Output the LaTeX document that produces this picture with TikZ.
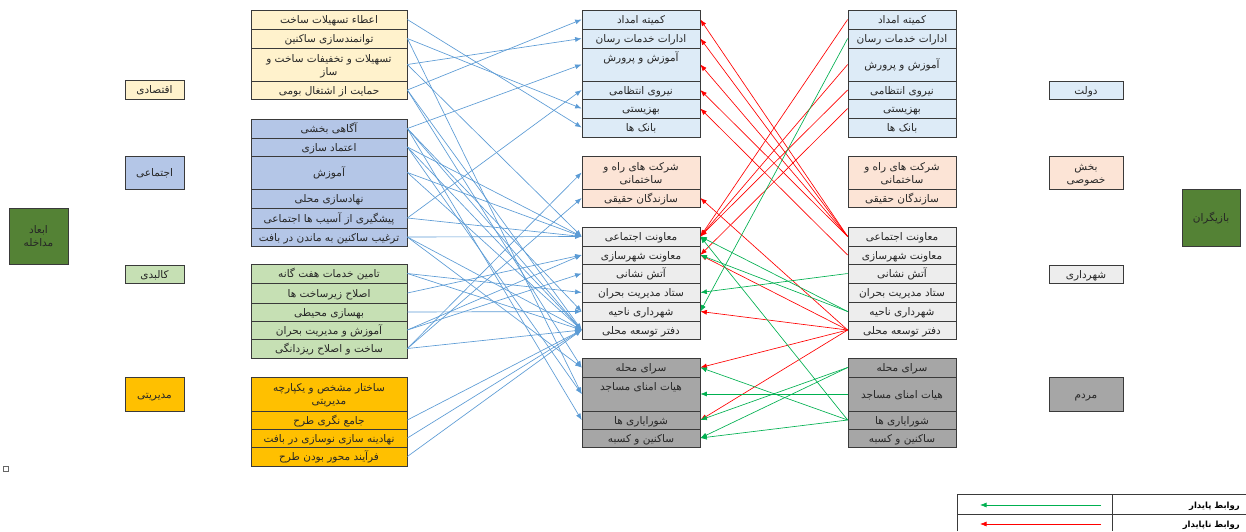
\documentclass[tikz,border=0pt]{standalone}
\usepackage{fontspec}
\newfontfamily\arabicfont[Script=Arabic]{DejaVu Sans}
\TeXXeTstate=1
\usetikzlibrary{arrows.meta}
\newcommand{\prs}[1]{\raisebox{0pt}[8pt][0pt]{\arabicfont\beginR #1\endR}}
\definecolor{cYel}{HTML}{FFF2CC}
\definecolor{cBlue}{HTML}{B4C6E7}
\definecolor{cGreen}{HTML}{C6E0B4}
\definecolor{cOrange}{HTML}{FFC000}
\definecolor{cDkGreen}{HTML}{548235}
\definecolor{cLtBlue}{HTML}{DDEBF7}
\definecolor{cPeach}{HTML}{FCE4D6}
\definecolor{cLtGrey}{HTML}{EDEDED}
\definecolor{cDkGrey}{HTML}{A6A6A6}
\definecolor{cBorder}{HTML}{3A3A3A}
\definecolor{cArrBlue}{HTML}{5B9BD5}
\definecolor{cArrRed}{HTML}{FF0000}
\definecolor{cArrGreen}{HTML}{00B050}
\tikzset{
  box/.style={draw=cBorder, line width=0.7pt, inner sep=0pt, align=center, text=black!85,
    font=\fontsize{10.5}{13}\selectfont},
  lcell/.style={box, minimum width=156},
  mcell/.style={box, minimum width=118},
  rcell/.style={box, minimum width=108},
  catl/.style={box, minimum width=59},
  catr/.style={box, minimum width=74},
  bluearr/.style={draw=cArrBlue, line width=0.65pt, -{Latex[length=6.5pt,width=5pt]}},
  redarr/.style={draw=cArrRed, line width=0.65pt, -{Latex[length=6.5pt,width=5pt]}},
  greenarr/.style={draw=cArrGreen, line width=0.65pt, -{Latex[length=6.5pt,width=5pt]}},
}
\begin{document}
\begin{tikzpicture}[x=1pt,y=-1pt]
\useasboundingbox (0,0) rectangle (1246,531);
\fill[white] (0,0) rectangle (1246,531);

% ---------- left categories ----------
\node[box, fill=cDkGreen, minimum width=59, minimum height=56] (dims) at (38.5,236) {\prs{ابعاد}\\\prs{مداخله}};
\node[catl, fill=cYel, minimum height=19] (econ) at (154.5,89.5) {\prs{اقتصادی}};
\node[catl, fill=cBlue, minimum height=33] (soc) at (154.5,172.5) {\prs{اجتماعی}};
\node[catl, fill=cGreen, minimum height=18] (phys) at (154.5,274) {\prs{کالبدی}};
\node[catl, fill=cOrange, minimum height=34] (mgmt) at (154.5,394) {\prs{مدیریتی}};

% ---------- left column ----------
\node[lcell, fill=cYel, minimum height=19] (y1) at (329,19.5) {\prs{اعطاء تسهیلات ساخت}};
\node[lcell, fill=cYel, minimum height=19] (y2) at (329,38.5) {\prs{توانمندسازی ساکنین}};
\node[lcell, fill=cYel, minimum height=33] (y3) at (329,64.5) {\prs{تسهیلات و تخفیفات ساخت و}\\\prs{ساز}};
\node[lcell, fill=cYel, minimum height=18] (y4) at (329,90) {\prs{حمایت از اشتغال بومی}};

\node[lcell, fill=cBlue, minimum height=19] (b1) at (329,128.5) {\prs{آگاهی بخشی}};
\node[lcell, fill=cBlue, minimum height=18] (b2) at (329,147) {\prs{اعتماد سازی}};
\node[lcell, fill=cBlue, minimum height=33] (b3) at (329,172.5) {\prs{آموزش}};
\node[lcell, fill=cBlue, minimum height=19] (b4) at (329,198.5) {\prs{نهادسازی محلی}};
\node[lcell, fill=cBlue, minimum height=20] (b5) at (329,218) {\prs{پیشگیری از آسیب ها اجتماعی}};
\node[lcell, fill=cBlue, minimum height=18] (b6) at (329,237) {\prs{ترغیب ساکنین به ماندن در بافت}};

\node[lcell, fill=cGreen, minimum height=19] (g1) at (329,273.5) {\prs{تامین خدمات هفت گانه}};
\node[lcell, fill=cGreen, minimum height=20] (g2) at (329,293) {\prs{اصلاح زیرساخت ها}};
\node[lcell, fill=cGreen, minimum height=18] (g3) at (329,312) {\prs{بهسازی محیطی}};
\node[lcell, fill=cGreen, minimum height=18] (g4) at (329,330) {\prs{آموزش و مدیریت بحران}};
\node[lcell, fill=cGreen, minimum height=19] (g5) at (329,348.5) {\prs{ساخت و اصلاح ریزدانگی}};

\node[lcell, fill=cOrange, minimum height=34] (o1) at (329,394) {\prs{ساختار مشخص و یکپارچه}\\\prs{مدیریتی}};
\node[lcell, fill=cOrange, minimum height=18] (o2) at (329,420) {\prs{جامع نگری طرح}};
\node[lcell, fill=cOrange, minimum height=18] (o3) at (329,438) {\prs{نهادینه سازی نوسازی در بافت}};
\node[lcell, fill=cOrange, minimum height=19] (o4) at (329,456.5) {\prs{فرآیند محور بودن طرح}};

% ---------- middle column ----------
\node[mcell, fill=cLtBlue, minimum height=19] (m1) at (641,19.5) {\prs{کمیته امداد}};
\node[mcell, fill=cLtBlue, minimum height=19] (m2) at (641,38.5) {\prs{ادارات خدمات رسان}};
\node[mcell, fill=cLtBlue, minimum height=33] (m3) at (641,64.5) {\prs{آموزش و پرورش}\\[2pt]\mbox{}};
\node[mcell, fill=cLtBlue, minimum height=18] (m4) at (641,90) {\prs{نیروی انتظامی}};
\node[mcell, fill=cLtBlue, minimum height=19] (m5) at (641,108.5) {\prs{بهزیستی}};
\node[mcell, fill=cLtBlue, minimum height=19] (m6) at (641,127.5) {\prs{بانک ها}};

\node[mcell, fill=cPeach, minimum height=33] (p1) at (641,172.5) {\prs{شرکت های راه و}\\\prs{ساختمانی}};
\node[mcell, fill=cPeach, minimum height=18] (p2) at (641,198) {\prs{سازندگان حقیقی}};

\node[mcell, fill=cLtGrey, minimum height=19] (s1) at (641,236.5) {\prs{معاونت اجتماعی}};
\node[mcell, fill=cLtGrey, minimum height=18] (s2) at (641,255) {\prs{معاونت شهرسازی}};
\node[mcell, fill=cLtGrey, minimum height=19] (s3) at (641,273.5) {\prs{آتش نشانی}};
\node[mcell, fill=cLtGrey, minimum height=19] (s4) at (641,292.5) {\prs{ستاد مدیریت بحران}};
\node[mcell, fill=cLtGrey, minimum height=19] (s5) at (641,311.5) {\prs{شهرداری ناحیه}};
\node[mcell, fill=cLtGrey, minimum height=18] (s6) at (641,330) {\prs{دفتر توسعه محلی}};

\node[mcell, fill=cDkGrey, minimum height=19] (q1) at (641,367.5) {\prs{سرای محله}};
\node[mcell, fill=cDkGrey, minimum height=34] (q2) at (641,394) {\prs{هیات امنای مساجد}\\[2pt]\mbox{}};
\node[mcell, fill=cDkGrey, minimum height=18] (q3) at (641,420) {\prs{شورایاری ها}};
\node[mcell, fill=cDkGrey, minimum height=18] (q4) at (641,438) {\prs{ساکنین و کسبه}};

% ---------- right column ----------
\node[rcell, fill=cLtBlue, minimum height=19] (rm1) at (902,19.5) {\prs{کمیته امداد}};
\node[rcell, fill=cLtBlue, minimum height=19] (rm2) at (902,38.5) {\prs{ادارات خدمات رسان}};
\node[rcell, fill=cLtBlue, minimum height=33] (rm3) at (902,64.5) {\prs{آموزش و پرورش}};
\node[rcell, fill=cLtBlue, minimum height=18] (rm4) at (902,90) {\prs{نیروی انتظامی}};
\node[rcell, fill=cLtBlue, minimum height=19] (rm5) at (902,108.5) {\prs{بهزیستی}};
\node[rcell, fill=cLtBlue, minimum height=19] (rm6) at (902,127.5) {\prs{بانک ها}};

\node[rcell, fill=cPeach, minimum height=33] (rp1) at (902,172.5) {\prs{شرکت های راه و}\\\prs{ساختمانی}};
\node[rcell, fill=cPeach, minimum height=18] (rp2) at (902,198) {\prs{سازندگان حقیقی}};

\node[rcell, fill=cLtGrey, minimum height=19] (rs1) at (902,236.5) {\prs{معاونت اجتماعی}};
\node[rcell, fill=cLtGrey, minimum height=18] (rs2) at (902,255) {\prs{معاونت شهرسازی}};
\node[rcell, fill=cLtGrey, minimum height=19] (rs3) at (902,273.5) {\prs{آتش نشانی}};
\node[rcell, fill=cLtGrey, minimum height=19] (rs4) at (902,292.5) {\prs{ستاد مدیریت بحران}};
\node[rcell, fill=cLtGrey, minimum height=19] (rs5) at (902,311.5) {\prs{شهرداری ناحیه}};
\node[rcell, fill=cLtGrey, minimum height=18] (rs6) at (902,330) {\prs{دفتر توسعه محلی}};

\node[rcell, fill=cDkGrey, minimum height=19] (rq1) at (902,367.5) {\prs{سرای محله}};
\node[rcell, fill=cDkGrey, minimum height=34] (rq2) at (902,394) {\prs{هیات امنای مساجد}};
\node[rcell, fill=cDkGrey, minimum height=18] (rq3) at (902,420) {\prs{شورایاری ها}};
\node[rcell, fill=cDkGrey, minimum height=18] (rq4) at (902,438) {\prs{ساکنین و کسبه}};

% ---------- right categories ----------
\node[catr, fill=cLtBlue, minimum height=18] (gov) at (1086,90) {\prs{دولت}};
\node[catr, fill=cPeach, minimum height=33] (priv) at (1086,172.5) {\prs{بخش}\\\prs{خصوصی}};
\node[catr, fill=cLtGrey, minimum height=18] (muni) at (1086,274) {\prs{شهرداری}};
\node[catr, fill=cDkGrey, minimum height=34] (ppl) at (1086,394) {\prs{مردم}};
\node[box, fill=cDkGreen, minimum width=58, minimum height=57] (actors) at (1211,217.5) {\prs{بازیگران}};

% ---------- blue connectors ----------
\draw[bluearr] (y1.east) -- (m6.west);
\draw[bluearr] (y2.east) -- (m5.west);
\draw[bluearr] (y2.east) -- (q2.west);
\draw[bluearr] (y3.east) -- (m2.west);
\draw[bluearr] (y3.east) -- (s1.west);
\draw[bluearr] (y4.east) -- (m1.west);
\draw[bluearr] (y4.east) -- (q1.west);
\draw[bluearr] (y4.east) -- (s6.west);
\draw[bluearr] (b1.east) -- (m3.west);
\draw[bluearr] (b1.east) -- (q3.west);
\draw[bluearr] (b1.east) -- (s6.west);
\draw[bluearr] (b1.east) -- (s5.west);
\draw[bluearr] (b2.east) -- (q2.west);
\draw[bluearr] (b2.east) -- (s1.west);
\draw[bluearr] (b2.east) -- (s6.west);
\draw[bluearr] (b3.east) -- (s1.west);
\draw[bluearr] (b3.east) -- (s6.west);
\draw[bluearr] (b5.east) -- (m4.west);
\draw[bluearr] (b5.east) -- (s1.west);
\draw[bluearr] (b6.east) -- (s1.west);
\draw[bluearr] (b6.east) -- (s6.west);
\draw[bluearr] (b6.east) -- (q1.west);
\draw[bluearr] (g1.east) -- (s4.west);
\draw[bluearr] (g1.east) -- (s6.west);
\draw[bluearr] (g2.east) -- (s2.west);
\draw[bluearr] (g3.east) -- (s5.west);
\draw[bluearr] (g4.east) -- (s3.west);
\draw[bluearr] (g4.east) -- (s2.west);
\draw[bluearr] (g5.east) -- (p1.west);
\draw[bluearr] (g5.east) -- (p2.west);
\draw[bluearr] (g5.east) -- (s6.west);
\draw[bluearr] (o2.east) -- (s6.west);
\draw[bluearr] (o3.east) -- (s6.west);
\draw[bluearr] (o4.east) -- (s6.west);

% ---------- red connectors ----------
\draw[redarr] (rs1.west) -- (m1.east);
\draw[redarr] (rs1.west) -- (m2.east);
\draw[redarr] (rs1.west) -- (m3.east);
\draw[redarr] (rs1.west) -- (m4.east);
\draw[redarr] (rs2.west) -- (m5.east);
\draw[redarr] (rm1.west) -- (s1.east);
\draw[redarr] (rm3.west) -- (s1.east);
\draw[redarr] (rm4.west) -- (s1.east);
\draw[redarr] (rm5.west) -- (s2.east);
\draw[redarr] (rs6.west) -- (p2.east);
\draw[redarr] (rs6.west) -- (s2.east);
\draw[redarr] (rs6.west) -- (s5.east);
\draw[redarr] (rs6.west) -- (q1.east);
\draw[redarr] (rs6.west) -- (q3.east);

% ---------- green connectors ----------
\draw[greenarr] (rm2.west) -- (s5.east);
\draw[greenarr] (rs3.west) -- (s4.east);
\draw[greenarr] (rs5.west) -- (s1.east);
\draw[greenarr] (rs5.west) -- (s2.east);
\draw[greenarr] (rq1.west) -- (q3.east);
\draw[greenarr] (rq1.west) -- (q4.east);
\draw[greenarr] (rq2.west) -- (q2.east);
\draw[greenarr] (rq3.west) -- (q1.east);
\draw[greenarr] (rq3.west) -- (q4.east);
\draw[greenarr] (rq3.west) -- (s1.east);

% ---------- legend ----------
\draw[cBorder, line width=0.6pt] (957,531) -- (957,494) -- (1246,494);
\draw[cBorder, line width=0.6pt] (957,514) -- (1246,514);
\draw[cBorder, line width=0.6pt] (1112,494) -- (1112,531);
\node[anchor=east, inner sep=0pt, font=\fontsize{8.5}{10}\selectfont\bfseries] (leg1) at (1240,504) {\prs{روابط پایدار}};
\node[anchor=east, inner sep=0pt, font=\fontsize{8.5}{10}\selectfont\bfseries] (leg2) at (1240,523) {\prs{روابط ناپایدار}};
\coordinate (la1) at (1101,505);
\coordinate (lb1) at (980,505);
\coordinate (la2) at (1101,524);
\coordinate (lb2) at (980,524);
\draw[greenarr] (la1) -- (lb1);
\draw[redarr] (la2) -- (lb2);

% small mark
\draw[black!60, line width=0.4pt] (3,466) rectangle (8,471);
\end{tikzpicture}
\end{document}
